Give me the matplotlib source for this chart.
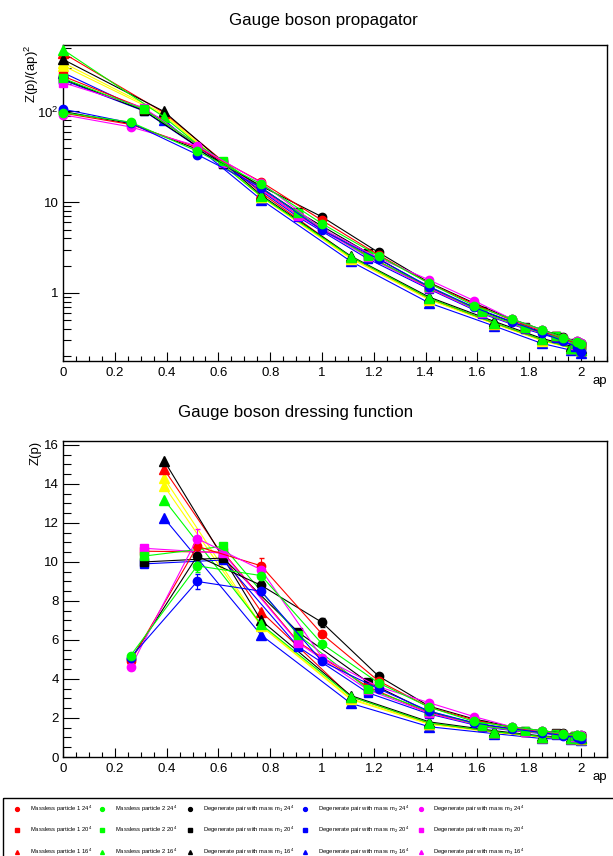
import numpy as np
import matplotlib
matplotlib.use("Agg")
import matplotlib.pyplot as plt
from matplotlib.patches import Rectangle
from matplotlib.ticker import FixedLocator, FixedFormatter, MultipleLocator, NullFormatter

plt.rcParams['font.family'] = ['Liberation Sans', 'DejaVu Sans']
plt.rcParams['mathtext.fontset'] = 'custom'
plt.rcParams['mathtext.rm'] = 'Liberation Sans'
plt.rcParams['mathtext.it'] = 'Liberation Sans:italic'

# ---------------- data ----------------
# lattice momenta (ap) for each lattice size (excluding ap = 0)
ap24 = [0.261, 0.518, 0.765, 1.0, 1.218, 1.414, 1.587, 1.732, 1.848, 1.932, 1.983, 2.0]
ap20 = [0.313, 0.618, 0.908, 1.176, 1.414, 1.618, 1.782, 1.902, 1.975, 2.0]
ap16 = [0.390, 0.765, 1.111, 1.414, 1.663, 1.848, 1.962, 2.0]

# dressing function Z(p)
z_ml1_24 = [4.9, 10.8, 9.8, 6.3, 3.9, 2.55, 1.9, 1.5, 1.3, 1.18, 1.1, 1.08]
z_ml2_24 = [5.2, 9.8, 9.3, 5.8, 3.8, 2.55, 1.82, 1.55, 1.35, 1.2, 1.13, 1.1]
z_m1_24 = [5.0, 10.3, 8.8, 6.9, 4.15, 2.6, 1.95, 1.55, 1.35, 1.22, 1.15, 1.12]
z_m2_24 = [5.1, 9.0, 8.5, 4.9, 3.5, 2.35, 1.75, 1.45, 1.25, 1.1, 1.0, 0.9]
z_m3_24 = [4.6, 11.2, 9.6, 5.1, 3.6, 2.78, 2.07, 1.55, 1.33, 1.2, 1.15, 1.12]

z_ml1_20 = [10.55, 10.5, 5.9, 3.6, 2.25, 1.6, 1.3, 1.2, 1.08, 1.05]
z_ml2_20 = [10.3, 10.8, 6.25, 3.5, 2.35, 1.6, 1.32, 1.2, 1.08, 1.05]
z_m1_20 = [10.0, 10.2, 6.4, 3.85, 2.3, 1.65, 1.35, 1.22, 1.1, 1.08]
z_m2_20 = [9.9, 10.1, 5.65, 3.3, 2.2, 1.55, 1.28, 1.15, 1.0, 0.98]
z_m3_20 = [10.7, 10.45, 5.85, 3.45, 2.25, 1.58, 1.3, 1.2, 1.05, 1.05]

z_ml1_16 = [14.75, 7.45, 3.1, 1.75, 1.3, 1.05, 0.97, 0.95]
z_ml2_16 = [13.2, 6.8, 3.1, 1.75, 1.3, 1.05, 0.96, 0.95]
z_m1_16 = [15.2, 7.0, 3.15, 1.8, 1.35, 1.08, 1.0, 0.98]
z_m2_16 = [12.25, 6.25, 2.75, 1.55, 1.2, 0.95, 0.9, 0.88]
z_m3_16 = [14.3, 6.75, 3.0, 1.7, 1.28, 1.03, 0.95, 0.93]
z_extra_16 = [13.9, 6.7, 2.95, 1.68, 1.27, 1.02, 0.95, 0.93]

# statistical errors on the 24^4 dressing function
e_ml1_24 = [0.15, 0.3, 0.4, 0.15, 0.08, 0.05, 0.03, 0.02, 0.02, 0.02, 0.02, 0.02]
e_ml2_24 = [0.15, 0.3, 0.2, 0.15, 0.08, 0.05, 0.03, 0.02, 0.02, 0.02, 0.02, 0.02]
e_m1_24 = [0.15, 0.3, 0.2, 0.25, 0.08, 0.05, 0.03, 0.02, 0.02, 0.02, 0.02, 0.02]
e_m2_24 = [0.15, 0.4, 0.2, 0.15, 0.08, 0.05, 0.03, 0.02, 0.02, 0.02, 0.02, 0.02]
e_m3_24 = [0.15, 0.5, 0.2, 0.15, 0.08, 0.05, 0.03, 0.02, 0.02, 0.02, 0.02, 0.02]

# zero-momentum propagator Z(p)/(ap)^2 at ap = 0
d0_ml1_24, d0_ml2_24, d0_m1_24, d0_m2_24, d0_m3_24 = 96, 97, 100, 106, 92
d0_ml1_20, d0_ml2_20, d0_m1_20, d0_m2_20, d0_m3_20 = 245, 232, 228, 222, 208
d0_ml1_16, d0_ml2_16, d0_m1_16, d0_m2_16, d0_m3_16, d0_extra_16 = 440, 480, 375, 268, 345, 320

legend_labels = [
    ["Massless particle 1 24$^4$", "Massless particle 1 20$^4$", "Massless particle 1 16$^4$"],
    ["Massless particle 2 24$^4$", "Massless particle 2 20$^4$", "Massless particle 2 16$^4$"],
    ["Degenerate pair with mass m$_1$ 24$^4$", "Degenerate pair with mass m$_1$ 20$^4$", "Degenerate pair with mass m$_1$ 16$^4$"],
    ["Degenerate pair with mass m$_2$ 24$^4$", "Degenerate pair with mass m$_2$ 20$^4$", "Degenerate pair with mass m$_2$ 16$^4$"],
    ["Degenerate pair with mass m$_3$ 24$^4$", "Degenerate pair with mass m$_3$ 20$^4$", "Degenerate pair with mass m$_3$ 16$^4$"],
]
legend_colors = ['#ff0000', '#00ff00', '#000000', '#0000ff', '#ff00ff']
legend_markers = ['o', 's', '^']

# ---------------- series table (drawing order) ----------------
RED, GREEN, BLACK, BLUE, MAG, YEL = '#ff0000', '#00ff00', '#000000', '#0000ff', '#ff00ff', '#ffff00'
series = [
    # (ap, Z, err, D0, color, marker)
    (ap16, z_m2_16, None, d0_m2_16, BLUE, '^'),
    (ap16, z_extra_16, None, d0_extra_16, YEL, '^'),
    (ap16, z_m3_16, None, d0_m3_16, YEL, '^'),
    (ap16, z_ml1_16, None, d0_ml1_16, RED, '^'),
    (ap16, z_m1_16, None, d0_m1_16, BLACK, '^'),
    (ap16, z_ml2_16, None, d0_ml2_16, GREEN, '^'),
    (ap20, z_m2_20, None, d0_m2_20, BLUE, 's'),
    (ap20, z_m1_20, None, d0_m1_20, BLACK, 's'),
    (ap20, z_ml1_20, None, d0_ml1_20, RED, 's'),
    (ap20, z_m3_20, None, d0_m3_20, MAG, 's'),
    (ap20, z_ml2_20, None, d0_ml2_20, GREEN, 's'),
    (ap24, z_m1_24, e_m1_24, d0_m1_24, BLACK, 'o'),
    (ap24, z_ml1_24, e_ml1_24, d0_ml1_24, RED, 'o'),
    (ap24, z_m3_24, e_m3_24, d0_m3_24, MAG, 'o'),
    (ap24, z_m2_24, e_m2_24, d0_m2_24, BLUE, 'o'),
    (ap24, z_ml2_24, e_ml2_24, d0_ml2_24, GREEN, 'o'),
]
msize = {'o': 6.0, 's': 5.6, '^': 6.6}

# ---------------- figure ----------------
W, H = 613, 856
fig = plt.figure(figsize=(W / 100, H / 100), dpi=100)
ax1 = fig.add_axes([63 / W, 1 - 361 / H, 544 / W, 316 / H])
ax2 = fig.add_axes([63 / W, 1 - 757 / H, 544 / W, 316 / H])

for ap, z, err, d0, col, mk in series:
    ap_a = np.array(ap)
    z_a = np.array(z)
    x_top = np.concatenate([[0.0], ap_a])
    y_top = np.concatenate([[d0], z_a / ap_a ** 2])
    ax1.plot(x_top, y_top, color=col, lw=0.8, marker=mk, ms=msize[mk],
             mec=col, mfc=col, clip_on=False, zorder=3)
    if err is not None:
        ax2.errorbar(ap_a, z_a, yerr=err, color=col, lw=0.8, marker=mk, ms=msize[mk],
                     mec=col, mfc=col, capsize=1.8, elinewidth=0.8, clip_on=False, zorder=3)
    else:
        ax2.plot(ap_a, z_a, color=col, lw=0.8, marker=mk, ms=msize[mk],
                 mec=col, mfc=col, clip_on=False, zorder=3)

xtick_vals = [0, 0.2, 0.4, 0.6, 0.8, 1.0, 1.2, 1.4, 1.6, 1.8, 2.0]
xtick_labels = ['0', '0.2', '0.4', '0.6', '0.8', '1', '1.2', '1.4', '1.6', '1.8', '2']
for ax in (ax1, ax2):
    ax.set_xlim(0, 2.1)
    ax.xaxis.set_major_locator(FixedLocator(xtick_vals))
    ax.xaxis.set_major_formatter(FixedFormatter(xtick_labels))
    ax.xaxis.set_minor_locator(MultipleLocator(0.05))
    ax.tick_params(axis='both', which='both', direction='in', top=False, right=False,
                   labelsize=9.5, width=0.8, color='black')
    ax.tick_params(axis='y', which='major', length=11.5, pad=3)
    ax.tick_params(axis='y', which='minor', length=5.8)
    ax.tick_params(axis='x', which='major', length=6.8, pad=4)
    ax.tick_params(axis='x', which='minor', length=3.4)
    for sp in ax.spines.values():
        sp.set_linewidth(1.0)
    ax.text(1.0, -0.045, 'ap', transform=ax.transAxes, ha='right', va='top', fontsize=9.5)

# top: log scale
ax1.set_yscale('log')
ax1.set_ylim(0.178, 540)
ax1.yaxis.set_major_locator(FixedLocator([1, 10, 100]))
ax1.yaxis.set_major_formatter(FixedFormatter(['1', '10', '10$^2$']))
minors = [m * 10.0 ** d for d in (-1, 0, 1, 2) for m in range(2, 10)]
ax1.yaxis.set_minor_locator(FixedLocator(minors))
ax1.yaxis.set_minor_formatter(NullFormatter())
ax1.set_ylabel('Z(p)/(ap)$^2$', fontsize=9.5, loc='top')
ax1.yaxis.set_label_coords(-0.04, 1.0)

# bottom: linear
ax2.set_ylim(0, 16.2)
ax2.yaxis.set_major_locator(MultipleLocator(2))
ax2.yaxis.set_minor_locator(MultipleLocator(0.5))
ax2.set_ylabel('Z(p)', fontsize=9.5, loc='top')
ax2.yaxis.set_label_coords(-0.04, 1.0)

fig.text(323 / W, 1 - 20 / H, 'Gauge boson propagator', ha='center', va='center', fontsize=12.2)
fig.text(296 / W, 1 - 413 / H, 'Gauge boson dressing function', ha='center', va='center', fontsize=12.2)

# ---------------- legend (manual ROOT-style box) ----------------
axl = fig.add_axes([0, 0, 1, 60 / H])
axl.set_xlim(0, W)
axl.set_ylim(H, H - 60)
axl.axis('off')
axl.add_patch(Rectangle((3, 798), 640, 70, fill=False, lw=1.0, ec='black', clip_on=False))
col_marker_x = [17, 102, 190, 305, 421]
col_text_x = [30, 115, 203, 318, 433]
row_y = [809, 830, 852]
for ci in range(5):
    for ri in range(3):
        axl.plot([col_marker_x[ci]], [row_y[ri]], marker=legend_markers[ri], ms=2.8,
                 color=legend_colors[ci], ls='none')
        axl.text(col_text_x[ci], row_y[ri], legend_labels[ci][ri], fontsize=4.2,
                 ha='left', va='center')

fig.savefig('out.png', dpi=100)
